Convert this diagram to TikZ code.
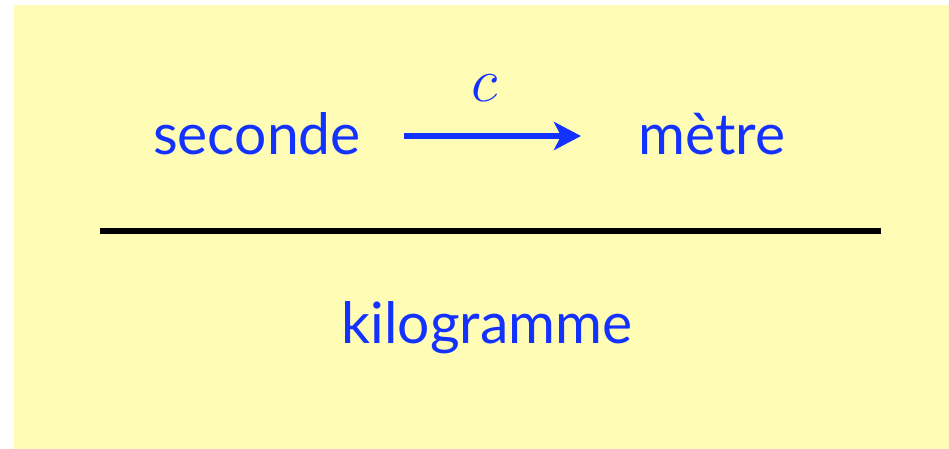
\documentclass[tikz,border=0pt]{standalone}
\usepackage{fix-cm}
\usepackage{fontspec}
\setmainfont{Lato}
\usetikzlibrary{arrows.meta}
\definecolor{bgyellow}{RGB}{255,252,181}
\definecolor{txtblue}{RGB}{20,50,255}
\tikzset{
  word/.style={text=txtblue, font=\fontsize{57}{62}\selectfont, inner sep=0pt, anchor=base},
  mapsto/.style={draw=txtblue, line width=5.5pt, -{Stealth[length=27pt,width=28pt,inset=7pt]}},
  rule/.style={draw=black, line width=5.5pt}
}
\begin{document}
\begin{tikzpicture}[x=1pt,y=-1pt]
\useasboundingbox (0,0) rectangle (949,449);
\fill[bgyellow] (14,5) rectangle (949,449);
\node[word] (sec) at (257,154) {seconde};
\node[word] (met) at (712,154) {mètre};
\coordinate (a1) at (404,136);
\coordinate (a2) at (581,136);
\draw[mapsto] (a1) -- (a2);
\node[text=txtblue, font=\fontsize{62}{66}\selectfont, inner sep=0pt] (c) at (485,88) {$c$};
\coordinate (r1) at (100,231);
\coordinate (r2) at (881,231);
\draw[rule] (r1) -- (r2);
\node[word] (kg) at (487,343) {kilogramme};
\end{tikzpicture}
\end{document}
